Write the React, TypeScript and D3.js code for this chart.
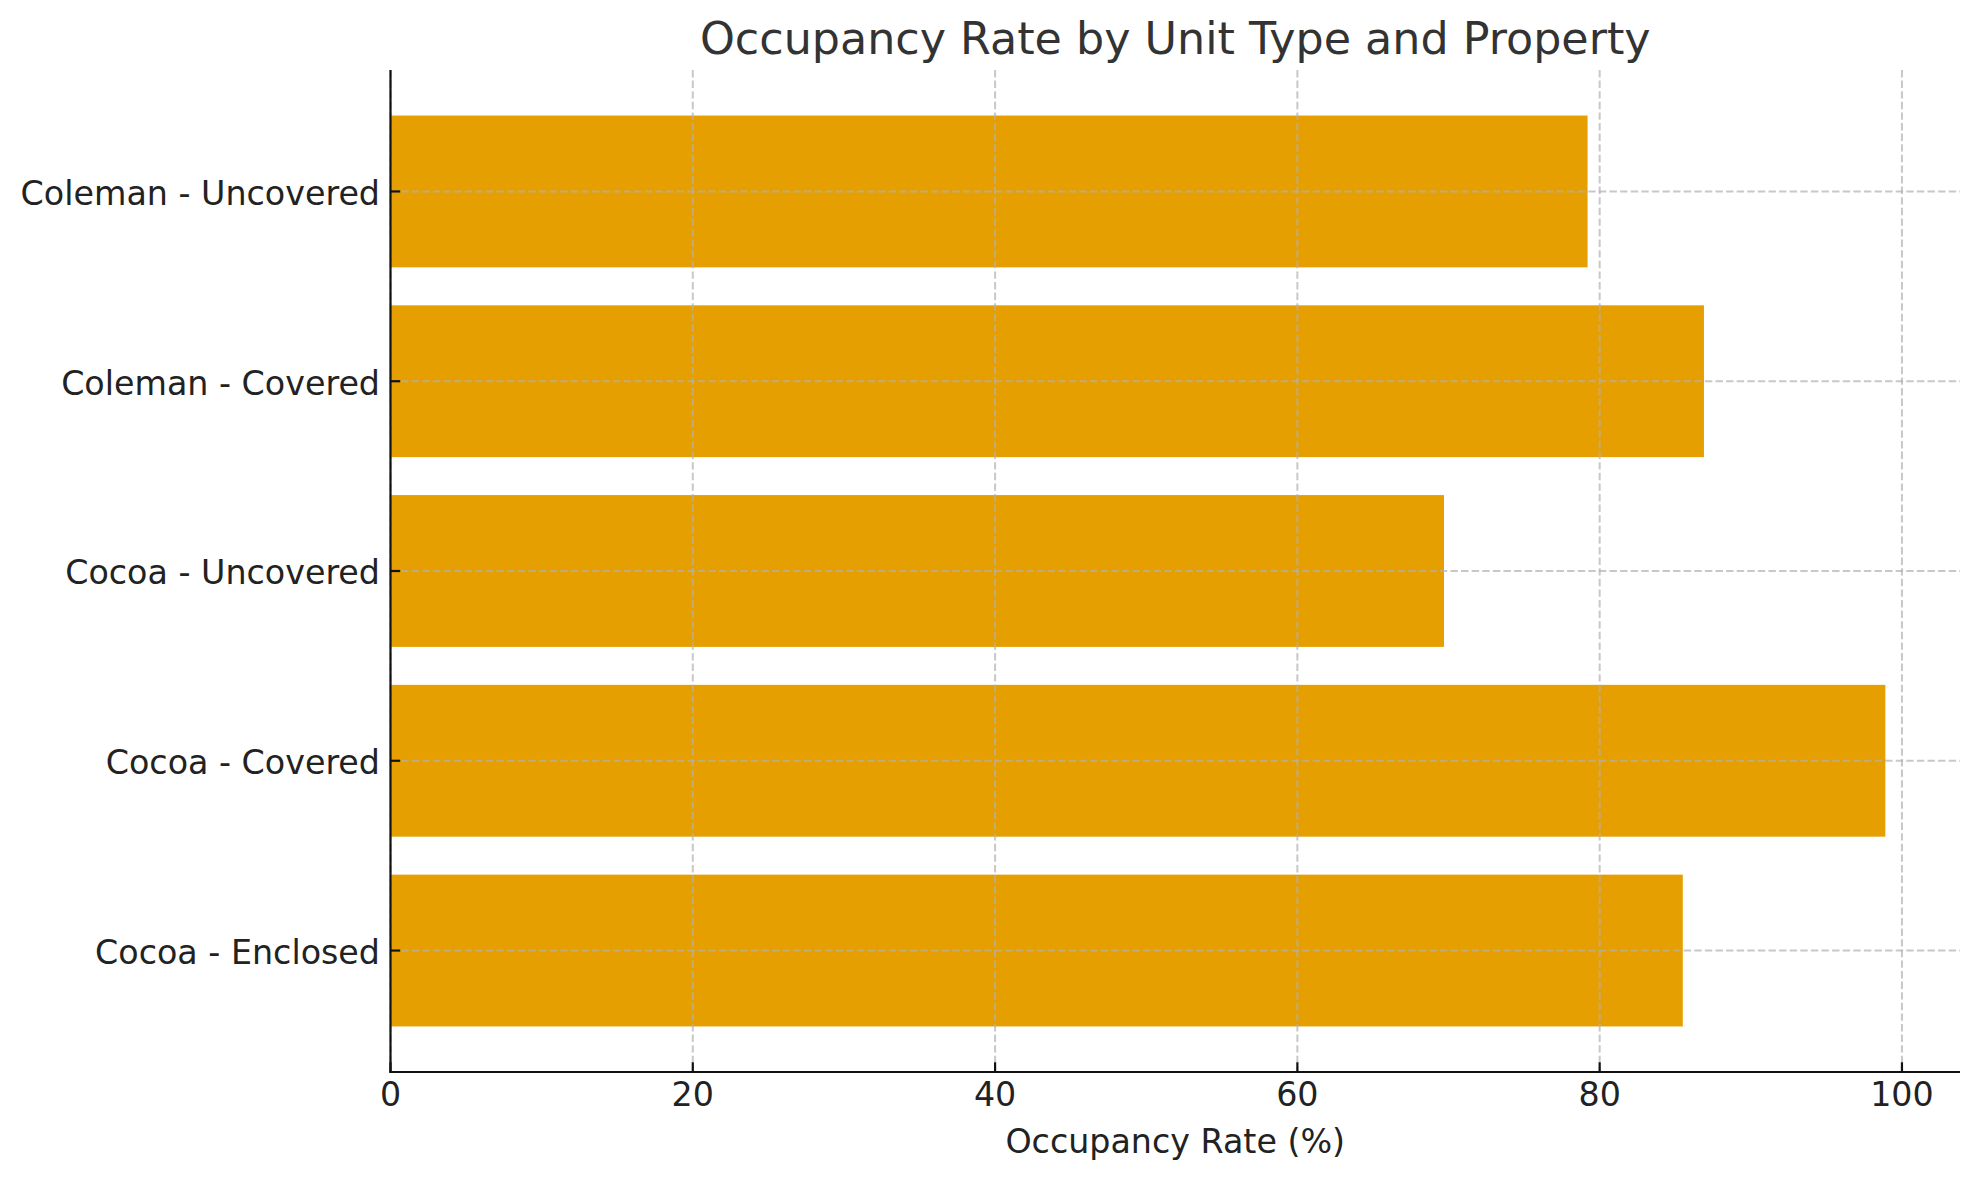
import React from "react";
import * as d3 from "d3";

const categories = [
  "Cocoa - Enclosed",
  "Cocoa - Covered",
  "Cocoa - Uncovered",
  "Coleman - Covered",
  "Coleman - Uncovered",
];
const occupancy = [85.5, 98.9, 69.7, 86.9, 79.2];
const xTicks = [0, 20, 40, 60, 80, 100];
const title = "Occupancy Rate by Unit Type and Property";
const xLabel = "Occupancy Rate (%)";

const W = 1980;
const H = 1180;
const L = 390.5;
const R = 1960;
const T = 70;
const B = 1072;
const FONT = "DejaVu Sans, sans-serif";

export default function App() {
  const x = d3.scaleLinear().domain([0, 103.84]).range([L, R]);
  const y = d3.scaleLinear().domain([-0.64, categories.length - 1 + 0.64]).range([B, T]);
  const barH = Math.abs(y(0.4) - y(-0.4));
  const gridColor = "rgba(176,176,176,0.7)";

  return (
    <svg
      width={W}
      height={H}
      viewBox={`0 0 ${W} ${H}`}
      style={{ position: "absolute", left: 0, top: 0, background: "#fff" }}
    >
      <rect x={0} y={0} width={W} height={H} fill="#fff" />
      {categories.map((c, i) => (
        <rect
          key={c}
          x={x(0)}
          y={y(i + 0.4)}
          width={x(occupancy[i]) - x(0)}
          height={barH}
          fill="#E69F00"
        />
      ))}
      {xTicks.map((t) => (
        <line
          key={"gx" + t}
          x1={x(t)}
          x2={x(t)}
          y1={T}
          y2={B}
          stroke={gridColor}
          strokeWidth={2}
          strokeDasharray="7.4 3.2"
        />
      ))}
      {categories.map((c, i) => (
        <line
          key={"gy" + c}
          x1={L}
          x2={R}
          y1={y(i)}
          y2={y(i)}
          stroke={gridColor}
          strokeWidth={2}
          strokeDasharray="7.4 3.2"
        />
      ))}
      <line x1={L} x2={L} y1={T} y2={B + 1.1} stroke="#111" strokeWidth={2.2} />
      <line x1={L - 1.1} x2={R} y1={B} y2={B} stroke="#111" strokeWidth={2.2} />
      {xTicks.map((t) => (
        <g key={"xt" + t}>
          <line x1={x(t)} x2={x(t)} y1={B} y2={B - 9.7} stroke="#111" strokeWidth={2.2} />
          <text
            x={x(t)}
            y={1106}
            textAnchor="middle"
            fontFamily={FONT}
            fontSize={33.3}
            fill="#222"
          >
            {t}
          </text>
        </g>
      ))}
      {categories.map((c, i) => (
        <g key={"yt" + c}>
          <line x1={L} x2={L + 9.7} y1={y(i)} y2={y(i)} stroke="#111" strokeWidth={2.2} />
          <text
            x={L - 10.5}
            y={y(i)}
            dy="0.4em"
            textAnchor="end"
            fontFamily={FONT}
            fontSize={33.3}
            fill="#222"
          >
            {c}
          </text>
        </g>
      ))}
      <text
        x={(L + R) / 2}
        y={1153}
        textAnchor="middle"
        fontFamily={FONT}
        fontSize={33.3}
        fill="#222"
      >
        {xLabel}
      </text>
      <text
        x={(L + R) / 2}
        y={54}
        textAnchor="middle"
        fontFamily={FONT}
        fontSize={44.4}
        fill="#333"
      >
        {title}
      </text>
    </svg>
  );
}
